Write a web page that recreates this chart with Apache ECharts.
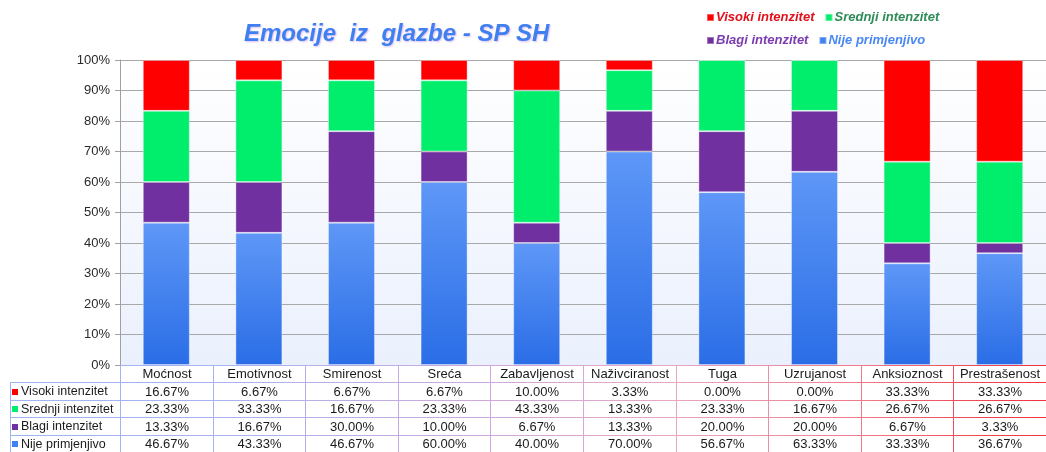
<!DOCTYPE html>
<html>
<head>
<meta charset="utf-8">
<script src="https://cdn.jsdelivr.net/npm/echarts@6/dist/echarts.min.js"></script>
<style>
  html, body { margin: 0; padding: 0; background: #ffffff; }
  #chart { width: 1046px; height: 452px; }
</style>
</head>
<body>
<div id="chart"></div>
<script>
// Emotion categories along the x axis
const categories = ['Moćnost', 'Emotivnost', 'Smirenost', 'Sreća', 'Zabavljenost',
  'Naživciranost', 'Tuga', 'Uzrujanost', 'Anksioznost', 'Prestrašenost'];

// Share of answers (%) per intensity level
const visoki  = [16.67, 6.67, 6.67, 6.67, 10.00, 3.33, 0.00, 0.00, 33.33, 33.33];
const srednji = [23.33, 33.33, 16.67, 23.33, 43.33, 13.33, 23.33, 16.67, 26.67, 26.67];
const blagi   = [13.33, 16.67, 30.00, 10.00, 6.67, 13.33, 20.00, 20.00, 6.67, 3.33];
const nije    = [46.67, 43.33, 46.67, 60.00, 40.00, 70.00, 56.67, 63.33, 33.33, 36.67];

const seriesNames = ['Visoki intenzitet', 'Srednji intenzitet', 'Blagi intenzitet', 'Nije primjenjivo'];
const yTickLabels = ['0%', '10%', '20%', '30%', '40%', '50%', '60%', '70%', '80%', '90%', '100%'];

const FONT = '"Liberation Sans", Arial, sans-serif';

const blueFill = new echarts.graphic.LinearGradient(0, 0, 0, 1, [
  { offset: 0, color: '#5e97f7' },
  { offset: 1, color: '#2a6de6' }
]);
const colors = {
  'Visoki intenzitet': '#ff0000',
  'Srednji intenzitet': '#00ee6c',
  'Blagi intenzitet': '#7030a0',
  'Nije primjenjivo': blueFill
};
const legendTextColors = {
  'Visoki intenzitet': '#e0101c',
  'Srednji intenzitet': '#2f8c58',
  'Blagi intenzitet': '#7a3cb0',
  'Nije primjenjivo': '#4a88f2'
};
const swatchColors = {
  'Visoki intenzitet': '#ff0000',
  'Srednji intenzitet': '#00ee6c',
  'Blagi intenzitet': '#7030a0',
  'Nije primjenjivo': '#3f82f0'
};

// Table rows, top to bottom
const tableRows = [
  { name: seriesNames[0], values: visoki },
  { name: seriesNames[1], values: srednji },
  { name: seriesNames[2], values: blagi },
  { name: seriesNames[3], values: nije }
];

// Border colour of the data table runs from blue on the left to red on the right
const tableStroke = {
  type: 'linear', x: 10, y: 0, x2: 1046, y2: 0, global: true,
  colorStops: [
    { offset: 0.00, color: '#9db4f4' },
    { offset: 0.20, color: '#a8b3ef' },
    { offset: 0.46, color: '#cfa8dc' },
    { offset: 0.64, color: '#e8a6c2' },
    { offset: 0.82, color: '#f07a8a' },
    { offset: 0.91, color: '#f0505c' },
    { offset: 1.00, color: '#f03040' }
  ]
};

// Cells of the data table: header row (row 0) with category names, then one row per level
const cells = [];
categories.forEach((c, i) => cells.push({ col: i, row: 0, kind: 'head', text: c }));
tableRows.forEach((r, ri) => {
  cells.push({ col: 0, row: ri + 1, kind: 'label', text: r.name });
  r.values.forEach((v, i) => cells.push({ col: i, row: ri + 1, kind: 'value', text: v.toFixed(2) + '%' }));
});

function px(v) { return Math.round(v) + 0.5; }

function renderCell(params, api) {
  const c = cells[params.dataIndex];
  const center = api.coord([c.col, c.row]);
  const size = api.size([1, 1]);
  const y0 = px(center[1] - size[1] / 2);
  const y1 = px(center[1] + size[1] / 2);
  let x0, x1;
  if (c.kind === 'label') {
    x0 = px(10);
    x1 = px(params.coordSys.x);
  } else {
    x0 = px(center[0] - size[0] / 2);
    x1 = px(center[0] + size[0] / 2);
  }
  const children = [{
    type: 'rect',
    shape: { x: x0, y: y0, width: x1 - x0, height: y1 - y0 },
    style: { fill: 'none', stroke: tableStroke, lineWidth: 1 }
  }];
  const cy = (y0 + y1) / 2;
  if (c.kind === 'label') {
    children.push({
      type: 'rect',
      shape: { x: 12, y: Math.round(cy - 3), width: 6, height: 6 },
      style: { fill: swatchColors[c.text] }
    });
    children.push({
      type: 'text',
      style: { text: c.text, x: 21, y: cy + 0.5, align: 'left', verticalAlign: 'middle',
        fontSize: 12.5, fontFamily: FONT, fill: '#1a1a1a' }
    });
  } else {
    children.push({
      type: 'text',
      style: { text: c.text, x: (x0 + x1) / 2, y: cy + 0.5, align: 'center', verticalAlign: 'middle',
        fontSize: 13, fontFamily: FONT, fill: '#1a1a1a' }
    });
  }
  return { type: 'group', children: children };
}

const barData = { 'Visoki intenzitet': visoki, 'Srednji intenzitet': srednji,
  'Blagi intenzitet': blagi, 'Nije primjenjivo': nije };
// Stack from the bottom: not applicable, mild, medium, high
const stackOrder = [seriesNames[3], seriesNames[2], seriesNames[1], seriesNames[0]];

const chart = echarts.init(document.getElementById('chart'), null, { renderer: 'canvas' });
chart.setOption({
  animation: false,
  backgroundColor: '#ffffff',
  title: {
    text: 'Emocije  iz  glazbe - SP SH',
    left: 244, top: 22, padding: 0,
    textStyle: {
      fontFamily: FONT, fontSize: 24, fontWeight: 'bold', fontStyle: 'italic',
      color: '#3f80f0',
      textShadowColor: 'rgba(160, 70, 200, 0.35)', textShadowBlur: 2,
      textShadowOffsetX: 1, textShadowOffsetY: 1
    }
  },
  legend: {
    left: 706, top: 11, width: 264, padding: 0,
    itemWidth: 7, itemHeight: 7, itemGap: 10,
    icon: 'rect',
    selectedMode: false,
    data: seriesNames.map(n => ({
      name: n,
      itemStyle: { color: swatchColors[n] },
      textStyle: { color: legendTextColors[n] }
    })),
    textStyle: {
      fontFamily: FONT, fontSize: 13, fontWeight: 'bold', fontStyle: 'italic',
      width: 112, overflow: 'none', padding: [0, 0, 0, -3]
    }
  },
  grid: [
    {
      left: 120, right: 0, top: 60, bottom: 87,
      show: true, borderWidth: 0,
      backgroundColor: new echarts.graphic.LinearGradient(0, 0, 0, 1, [
        { offset: 0, color: '#ffffff' },
        { offset: 1, color: '#eaf0fd' }
      ])
    },
    { left: 120, right: 0, top: 365, height: 92.5 }
  ],
  xAxis: [
    {
      type: 'category', gridIndex: 0, data: categories,
      axisLine: { show: false }, axisTick: { show: false }, axisLabel: { show: false }
    },
    {
      type: 'category', gridIndex: 1, data: categories, show: false
    }
  ],
  yAxis: [
    {
      type: 'value', gridIndex: 0, min: 0, max: 100, interval: 10,
      axisLine: { show: true, lineStyle: { color: '#a0a0a0' } },
      axisTick: { show: true, length: 5, lineStyle: { color: '#a0a0a0' } },
      splitLine: { show: true, lineStyle: { color: '#a8a8a8', width: 1 } },
      axisLabel: {
        formatter: (v) => yTickLabels[Math.round(v / 10)],
        fontFamily: FONT, fontSize: 13, color: '#2a2a2a', margin: 10
      }
    },
    {
      type: 'category', gridIndex: 1, inverse: true,
      data: ['', ...seriesNames], show: false
    }
  ],
  series: [
    ...stackOrder.map(n => ({
      name: n,
      type: 'bar',
      stack: 'total',
      xAxisIndex: 0, yAxisIndex: 0,
      barWidth: 47,
      itemStyle: { color: colors[n], borderColor: 'rgba(255,255,255,0.35)', borderWidth: 1 },
      emphasis: { disabled: true },
      data: barData[n]
    })),
    {
      type: 'custom',
      name: 'tablica',
      xAxisIndex: 1, yAxisIndex: 1,
      silent: true,
      renderItem: renderCell,
      data: cells.map(c => [c.col, c.row])
    }
  ]
});
</script>
</body>
</html>
